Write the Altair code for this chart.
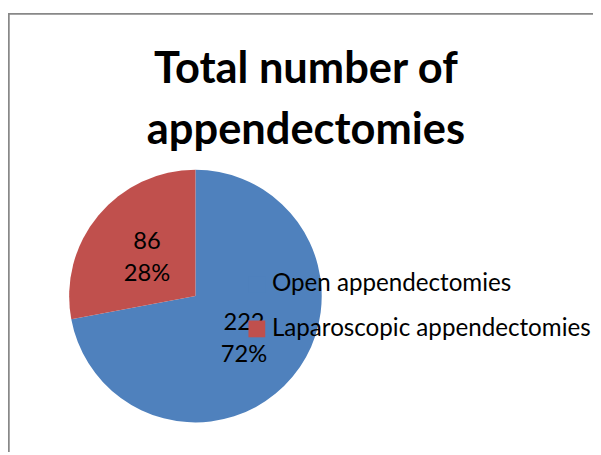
import altair as alt
import pandas as pd

categories = ["Open appendectomies", "Laparoscopic appendectomies"]
values = [222, 86]
colors = ["#4F81BD", "#C0504D"]
title_lines = ["Total number of", "appendectomies"]

total = sum(values)
df = pd.DataFrame({
    "category": categories,
    "value": values,
    "order": list(range(len(categories))),
    "label": [f"{v}\n{round(100 * v / total)}%" for v in values],
})

FONT = "Lato"
CX, CY = 190, 287  # pie centre inside the view

base = alt.Chart(df).encode(
    theta=alt.Theta("value:Q", stack=True),
    order=alt.Order("order:Q"),
    x=alt.value(CX),
    y=alt.value(CY),
)

arcs = base.mark_arc(outerRadius=128, stroke=None).encode(
    color=alt.Color(
        "category:N",
        scale=alt.Scale(domain=categories, range=colors),
        sort=categories,
        legend=alt.Legend(
            title=None,
            orient="none",
            legendX=240,
            legendY=263,
            symbolType="square",
            symbolSize=289,
            symbolStrokeWidth=0,
            labelFont=FONT,
            labelFontSize=24.5,
            labelColor="black",
            labelOffset=3,
            rowPadding=20,
            labelLimit=400,
        ),
    )
)

labels = base.mark_text(
    radius=64, font=FONT, fontSize=24, lineBreak="\n", lineHeight=33,
    color="black", dy=-14,
).encode(text="label:N")

left_edge = alt.Chart(df).mark_rule(color="#888888", strokeWidth=1.5).encode(
    x=alt.value(0.75), y=alt.value(0), y2=alt.value(445)
)
top_edge = alt.Chart(df).mark_rule(color="#888888", strokeWidth=1.5).encode(
    x=alt.value(0), x2=alt.value(593), y=alt.value(0.75)
)

chart = alt.layer(left_edge, top_edge, arcs, labels).properties(
    width=593,
    height=445,
    padding={"left": 0, "top": 2, "right": 0, "bottom": 0},
    autosize=alt.AutoSizeParams(type="none"),
    title=alt.TitleParams(
        text=title_lines,
        font=FONT,
        fontSize=44,
        fontWeight="bold",
        color="black",
        anchor="start",
        frame="group",
        dx=302,
        dy=108,
        align="center",
        baseline="alphabetic",
        lineHeight=62,
        offset=-70,
    ),
).configure_view(stroke=None)

chart.save("out.html", embed_options={"renderer": "svg", "actions": False})
